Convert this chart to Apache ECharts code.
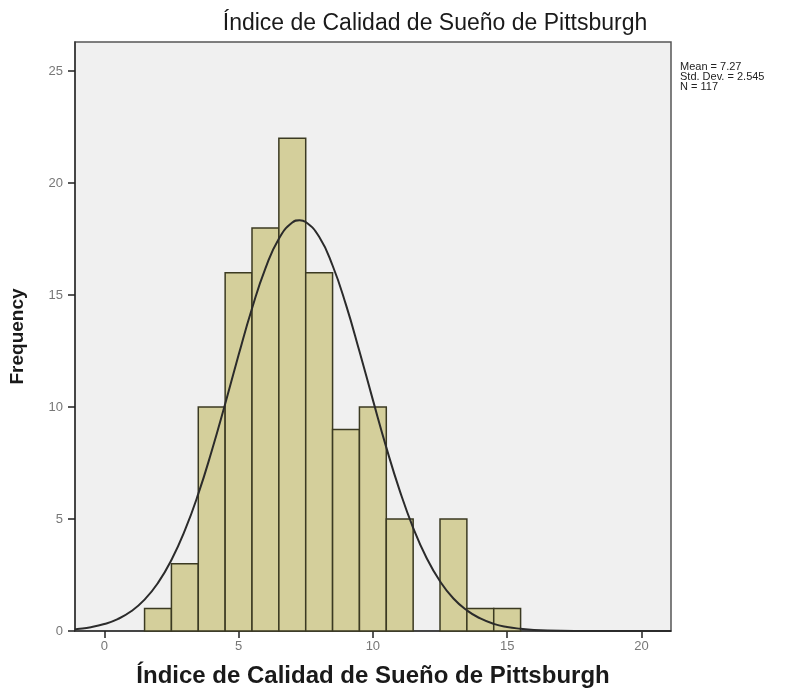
<!DOCTYPE html>
<html>
<head>
<meta charset="utf-8">
<script src="https://cdn.jsdelivr.net/npm/echarts@6/dist/echarts.min.js"></script>
<style>html,body{margin:0;padding:0;background:#fff;}#c{width:804px;height:695px;}</style>
</head>
<body>
<div id="c"></div>
<script>
// Histogram bins (bin centers) and frequencies
const binCenters = [2, 3, 4, 5, 6, 7, 8, 9, 10, 11, 12, 13, 14, 15];
const frequencies = [1, 3, 10, 16, 18, 22, 16, 9, 10, 5, 0, 5, 1, 1];
// Fitted normal curve
const curveX = [-1.1, -1, -0.5, 0, 0.5, 1, 1.5, 2, 2.5, 3, 3.5, 4, 4.5, 5, 5.5, 6, 6.5, 7, 7.27, 7.5, 8, 8.5, 9, 9.5, 10, 10.5, 11, 11.5, 12, 12.5, 13, 13.5, 14, 14.5, 15, 15.5, 16, 17, 18, 19, 20, 21.1];
const curveY = [0.08, 0.09, 0.17, 0.31, 0.53, 0.88, 1.40, 2.15, 3.17, 4.49, 6.12, 8.04, 10.14, 12.32, 14.40, 16.19, 17.52, 18.24, 18.34, 18.26, 17.60, 16.32, 14.56, 12.49, 10.32, 8.20, 6.27, 4.61, 3.26, 2.22, 1.45, 0.92, 0.56, 0.32, 0.18, 0.10, 0.05, 0.01, 0, 0, 0, 0];
const xTicks = [0, 5, 10, 15, 20];
const yTicks = [0, 5, 10, 15, 20, 25];
const statsLines = ['Mean = 7.27', 'Std. Dev. = 2.545', 'N = 117'];
const titleText = 'Índice de Calidad de Sueño de Pittsburgh';
const xName = 'Índice de Calidad de Sueño de Pittsburgh';
const yName = 'Frequency';

const chart = echarts.init(document.getElementById('c'), null, {renderer: 'canvas'});
const barData = binCenters.map((c, i) => [c, frequencies[i]]);
const curveData = curveX.map((x, i) => [x, curveY[i]]);

chart.setOption({
  animation: false,
  backgroundColor: '#ffffff',
  title: {
    text: titleText,
    left: 430, top: 7, textAlign: 'center',
    textStyle: {fontFamily: 'Liberation Sans, Arial', fontSize: 23, fontWeight: 'normal', color: '#1a1a1a'}
  },
  graphic: [{
    type: 'text', left: 680, top: 61,
    style: {text: statsLines.join('\n'), font: '11px "Liberation Sans", Arial', fill: '#222', lineHeight: 10}
  }],
  grid: {
    left: 75, top: 42, right: 133, bottom: 64,
    show: true, backgroundColor: '#f0f0f0', borderColor: '#555', borderWidth: 1.5
  },
  xAxis: {
    type: 'value', min: -1.09, max: 21.1,
    name: xName, nameLocation: 'middle', nameGap: 33,
    nameTextStyle: {fontFamily: 'Liberation Sans, Arial', fontSize: 24, fontWeight: 'bold', color: '#1a1a1a'},
    axisLine: {show: true, onZero: false, lineStyle: {color: '#333', width: 1.5}},
    axisTick: {show: true, inside: false, length: 7, lineStyle: {color: '#222', width: 1.5}, customValues: xTicks},
    axisLabel: {color: '#777', fontSize: 13, fontFamily: 'Liberation Sans, Arial', margin: 9, customValues: xTicks},
    splitLine: {show: false}
  },
  yAxis: {
    type: 'value', min: 0, max: 26.3,
    name: yName, nameLocation: 'middle', nameGap: 48, nameRotate: 90,
    nameTextStyle: {fontFamily: 'Liberation Sans, Arial', fontSize: 19, fontWeight: 'bold', color: '#1a1a1a'},
    axisLine: {show: true, onZero: false, lineStyle: {color: '#333', width: 1.5}},
    axisTick: {show: true, inside: false, length: 7, lineStyle: {color: '#222', width: 1.5}, customValues: yTicks},
    axisLabel: {color: '#777', fontSize: 13, fontFamily: 'Liberation Sans, Arial', margin: 12, customValues: yTicks},
    splitLine: {show: false}
  },
  series: [{
    type: 'custom',
    data: barData,
    renderItem: function (params, api) {
      const c = api.value(0), v = api.value(1);
      if (v <= 0) return null;
      const p0 = api.coord([c - 0.5, v]);
      const p1 = api.coord([c + 0.5, 0]);
      return {
        type: 'rect',
        shape: {x: p0[0], y: p0[1], width: p1[0] - p0[0], height: p1[1] - p0[1]},
        style: {fill: '#d4cf9b', stroke: '#3b3a22', lineWidth: 1.5}
      };
    },
    z: 2
  }, {
    type: 'line',
    data: curveData,
    smooth: true,
    showSymbol: false,
    lineStyle: {color: '#2b2b2b', width: 2},
    z: 3
  }]
});
</script>
</body>
</html>
